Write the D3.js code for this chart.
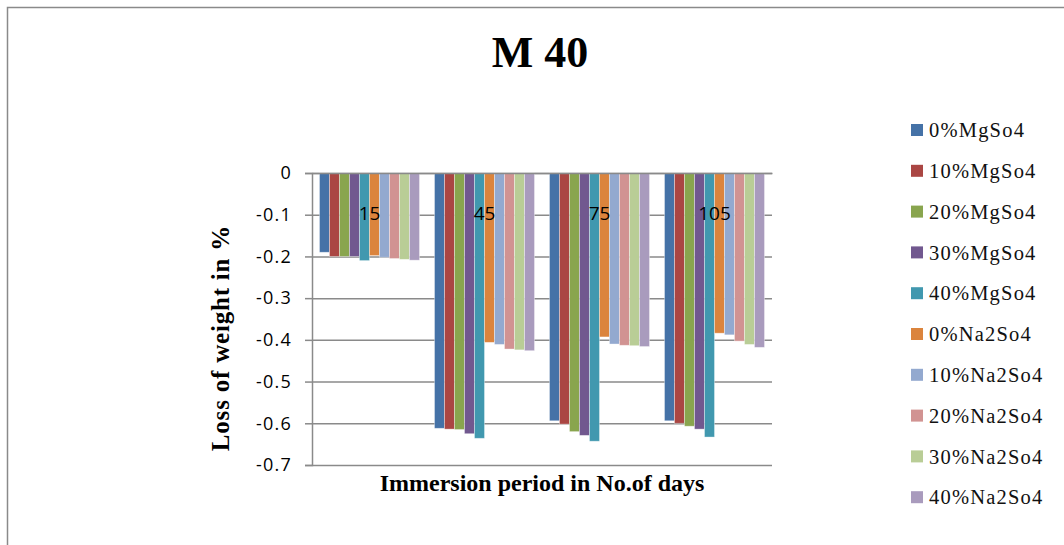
<!DOCTYPE html>
<html>
<head>
<meta charset="utf-8">
<script src="https://cdn.jsdelivr.net/npm/d3@7"></script>
<style>
  html, body { margin: 0; padding: 0; background: #fff; }
  svg { display: block; }
</style>
</head>
<body>
<svg id="chart" width="1064" height="545"></svg>
<script>
// Immersion periods (days)
const categories = ["15", "45", "75", "105"];

// Loss of weight (%) per solution, one value per immersion period
const mg0  = [-0.190, -0.612, -0.594, -0.594];
const mg10 = [-0.200, -0.614, -0.602, -0.600];
const mg20 = [-0.200, -0.615, -0.620, -0.607];
const mg30 = [-0.200, -0.625, -0.629, -0.614];
const mg40 = [-0.210, -0.636, -0.643, -0.633];
const na0  = [-0.198, -0.406, -0.393, -0.384];
const na10 = [-0.202, -0.411, -0.410, -0.388];
const na20 = [-0.205, -0.422, -0.413, -0.403];
const na30 = [-0.207, -0.424, -0.414, -0.411];
const na40 = [-0.209, -0.426, -0.416, -0.418];

const seriesNames = ["0%MgSo4", "10%MgSo4", "20%MgSo4", "30%MgSo4", "40%MgSo4",
                     "0%Na2So4", "10%Na2So4", "20%Na2So4", "30%Na2So4", "40%Na2So4"];
const seriesValues = [mg0, mg10, mg20, mg30, mg40, na0, na10, na20, na30, na40];
const seriesColors = ["#4572A7", "#AA4643", "#89A54E", "#71588F", "#4198AF",
                      "#DB843D", "#93A9CF", "#D19392", "#B9CD96", "#A99BBD"];

const yTickValues = [0, -0.1, -0.2, -0.3, -0.4, -0.5, -0.6, -0.7];
const yTickLabels = ["0", "-0.1", "-0.2", "-0.3", "-0.4", "-0.5", "-0.6", "-0.7"];

const series = seriesNames.map((name, i) => ({ name, color: seriesColors[i], values: seriesValues[i] }));

const svg = d3.select("#chart");

// Outer chart frame (only top and left edges fall inside the window)
svg.append("rect")
  .attr("x", 7.5).attr("y", 7.5)
  .attr("width", 1200).attr("height", 700)
  .attr("fill", "none").attr("stroke", "#8a8a8a").attr("stroke-width", 1.5);

// Plot area
const plot = { left: 312, right: 772, top: 173, bottom: 465 };

const x0 = d3.scaleBand()
  .domain(categories)
  .range([plot.left, plot.right])
  .paddingInner(0.1304)
  .paddingOuter(0.0652);

const x1 = d3.scaleBand()
  .domain(seriesNames)
  .range([0, x0.bandwidth()])
  .padding(0);

const y = d3.scaleLinear()
  .domain([-0.7, 0])
  .range([plot.bottom, plot.top]);

// Horizontal gridlines with tick marks
const yAxis = d3.axisLeft(y)
  .tickValues(yTickValues)
  .tickFormat((d, i) => yTickLabels[i])
  .tickSize(7)
  .tickPadding(13);

const yg = svg.append("g")
  .attr("transform", `translate(${plot.left},0)`)
  .call(yAxis);
yg.select(".domain").attr("stroke", "#8a8a8a").attr("stroke-width", 1.5);
yg.selectAll(".tick line").attr("stroke", "#8a8a8a").attr("stroke-width", 1.5);
yg.selectAll(".tick text")
  .attr("font-family", "'Open Sans', sans-serif")
  .attr("font-size", 18)
  .attr("letter-spacing", 1.2)
  .attr("fill", "#000");
yg.selectAll(".tick")
  .append("line")
  .attr("x1", 0).attr("x2", plot.right - plot.left)
  .attr("stroke", "#8a8a8a").attr("stroke-width", 1.5);

// Bars: each series hangs down from zero
const groups = svg.append("g")
  .selectAll("g")
  .data(categories)
  .join("g")
  .attr("transform", d => `translate(${x0(d)},0)`);

groups.selectAll("rect")
  .data((c, ci) => series.map(s => ({ name: s.name, color: s.color, value: s.values[ci] })))
  .join("rect")
  .attr("x", d => x1(d.name))
  .attr("y", y(0))
  .attr("width", x1.bandwidth())
  .attr("height", d => y(d.value) - y(0))
  .attr("fill", d => d.color)
  .attr("stroke", "rgba(255,255,255,0.45)")
  .attr("stroke-width", 0.8);

// Category axis along the zero line
const xAxis = d3.axisBottom(x0).tickSize(0).tickPadding(0);
const xg = svg.append("g")
  .attr("transform", `translate(0,${y(0)})`)
  .call(xAxis);
xg.select(".domain").attr("stroke", "#8a8a8a").attr("stroke-width", 1.5);
xg.selectAll(".tick text")
  .attr("y", 40)
  .attr("dy", "0.35em")
  .attr("font-family", "'Open Sans', sans-serif")
  .attr("font-size", 19)
  .attr("fill", "#000");

// Title
svg.append("text")
  .attr("x", 540).attr("y", 67)
  .attr("text-anchor", "middle")
  .attr("font-family", "'Liberation Serif', 'Times New Roman', serif")
  .attr("font-weight", "bold")
  .attr("font-size", 44)
  .text("M 40");

// Axis titles
svg.append("text")
  .attr("x", 542).attr("y", 491)
  .attr("text-anchor", "middle")
  .attr("font-family", "'Liberation Serif', 'Times New Roman', serif")
  .attr("font-weight", "bold")
  .attr("font-size", 24)
  .text("Immersion period in No.of days");

svg.append("text")
  .attr("transform", "translate(229,338) rotate(-90)")
  .attr("text-anchor", "middle")
  .attr("font-family", "'Liberation Serif', 'Times New Roman', serif")
  .attr("font-weight", "bold")
  .attr("font-size", 25)
  .attr("letter-spacing", 0.8)
  .text("Loss of weight in %");

// Legend
const legend = svg.append("g")
  .selectAll("g")
  .data(series)
  .join("g")
  .attr("transform", (d, i) => `translate(911,${130 + i * 40.8})`);

legend.append("rect")
  .attr("x", 0).attr("y", -6)
  .attr("width", 12).attr("height", 12)
  .attr("fill", d => d.color);

legend.append("text")
  .attr("x", 18).attr("y", 0)
  .attr("dy", "0.35em")
  .attr("font-family", "'Liberation Serif', 'Times New Roman', serif")
  .attr("font-size", 20.5)
  .attr("letter-spacing", 1.2)
  .attr("fill", "#111")
  .text(d => d.name);
</script>
</body>
</html>
